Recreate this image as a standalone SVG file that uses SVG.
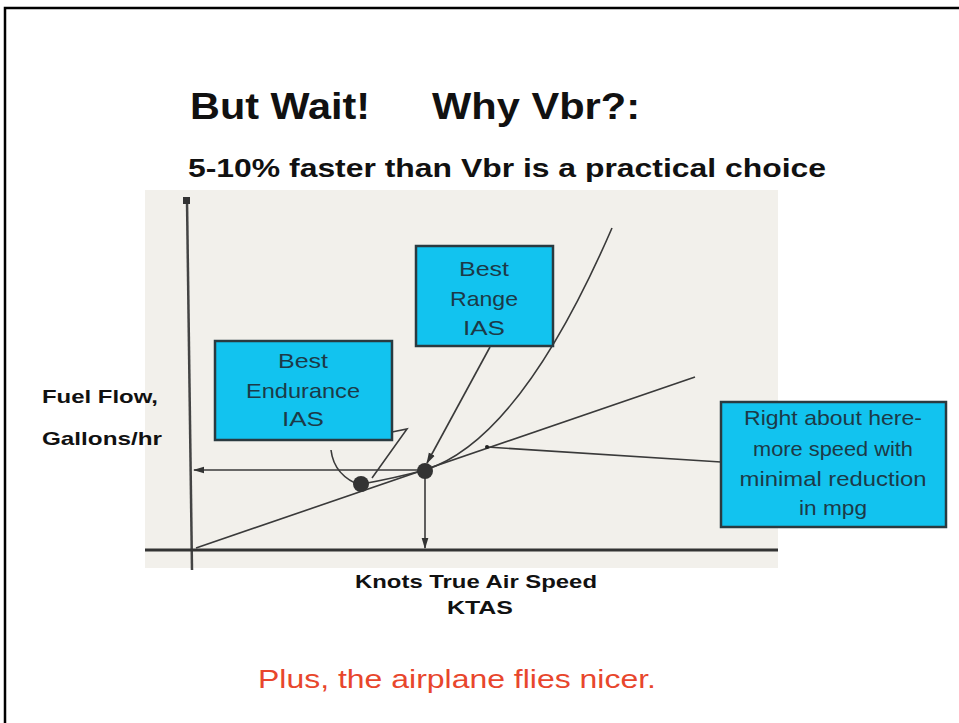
<svg xmlns="http://www.w3.org/2000/svg" width="959" height="723" viewBox="0 0 959 723">
<defs>
<style>
.t{font-family:"Liberation Sans",Arial,sans-serif;font-weight:bold;fill:#111}
.bx{fill:#12c3ef;stroke:#2a3a40;stroke-width:2.5}
.bt{font-family:"Liberation Sans",Arial,sans-serif;font-size:21px;fill:#1c3a48;text-anchor:middle}
.ln{fill:none;stroke:#3a3a3a;stroke-width:1.6}
</style>
<marker id="ah" viewBox="0 0 10 10" refX="9" refY="5" markerWidth="7" markerHeight="7" orient="auto-start-reverse"><path d="M0,2 L10,5 L0,8 z" fill="#333"/></marker>
</defs>
<rect width="959" height="723" fill="#fff"/>
<path d="M5,723 V8 H959" fill="none" stroke="#000" stroke-width="2.5"/>
<text class="t" x="190" y="119" font-size="36" textLength="180" lengthAdjust="spacingAndGlyphs">But Wait!</text>
<text class="t" x="432" y="119" font-size="36" textLength="208" lengthAdjust="spacingAndGlyphs">Why Vbr?:</text>
<text class="t" x="188" y="177" font-size="26" textLength="638" lengthAdjust="spacingAndGlyphs">5-10% faster than Vbr is a practical choice</text>
<rect x="145" y="190" width="633" height="378" fill="#f2f0eb"/>
<g id="axes">
<path d="M187,200 L192,570" stroke="#444" stroke-width="2.5"/>
<rect x="183" y="197" width="7" height="7" fill="#333"/>
<path d="M145,550 H778" stroke="#333" stroke-width="3"/>
</g>
<text class="t" x="42" y="403" font-size="19" textLength="116" lengthAdjust="spacingAndGlyphs">Fuel Flow,</text>
<text class="t" x="42" y="445" font-size="19" textLength="120" lengthAdjust="spacingAndGlyphs">Gallons/hr</text>
<text class="t" x="355" y="588" font-size="19" textLength="242" lengthAdjust="spacingAndGlyphs">Knots True Air Speed</text>
<text class="t" x="447" y="614" font-size="19" textLength="66" lengthAdjust="spacingAndGlyphs">KTAS</text>
<g id="connectors">
<path class="ln" d="M196,548 L695,377"/>
<path class="ln" d="M362,484 Q395,478 425,470 Q520,440 612,228"/>
<path class="ln" d="M425,470 H194" marker-end="url(#ah)"/>
<path class="ln" d="M425,470 V548" marker-end="url(#ah)"/>
<path class="ln" d="M490,347 L427,463" marker-end="url(#ah)"/>
<path class="ln" d="M721,462 L487,447"/>
<circle cx="487" cy="447" r="2" fill="#222"/>
<path class="ln" d="M392,432 L407,429 L372,478"/>
<path class="ln" d="M331,450 Q334,476 362,486"/>
</g>
<circle cx="361" cy="484" r="8" fill="#333"/>
<circle cx="425" cy="471" r="8" fill="#333"/>
<g id="endurance">
<rect class="bx" x="215" y="341" width="177" height="99"/>
<text class="bt" x="303" y="368" textLength="50" lengthAdjust="spacingAndGlyphs">Best</text>
<text class="bt" x="303" y="398" textLength="114" lengthAdjust="spacingAndGlyphs">Endurance</text>
<text class="bt" x="303" y="426" textLength="42" lengthAdjust="spacingAndGlyphs">IAS</text>
</g>
<g id="range">
<rect class="bx" x="416" y="246" width="137" height="100"/>
<text class="bt" x="484" y="276" textLength="50" lengthAdjust="spacingAndGlyphs">Best</text>
<text class="bt" x="484" y="306" textLength="68" lengthAdjust="spacingAndGlyphs">Range</text>
<text class="bt" x="484" y="335" textLength="42" lengthAdjust="spacingAndGlyphs">IAS</text>
</g>
<g id="here">
<rect class="bx" x="721" y="402" width="225" height="125"/>
<text class="bt" x="833" y="425" textLength="178" lengthAdjust="spacingAndGlyphs">Right about here-</text>
<text class="bt" x="833" y="456" textLength="160" lengthAdjust="spacingAndGlyphs">more speed with</text>
<text class="bt" x="833" y="486" textLength="187" lengthAdjust="spacingAndGlyphs">minimal reduction</text>
<text class="bt" x="833" y="515" textLength="68" lengthAdjust="spacingAndGlyphs">in mpg</text>
</g>
<text x="258" y="688" font-family="Liberation Sans,Arial,sans-serif" font-size="26" fill="#e8462c" textLength="398" lengthAdjust="spacingAndGlyphs">Plus, the airplane flies nicer.</text>
</svg>
